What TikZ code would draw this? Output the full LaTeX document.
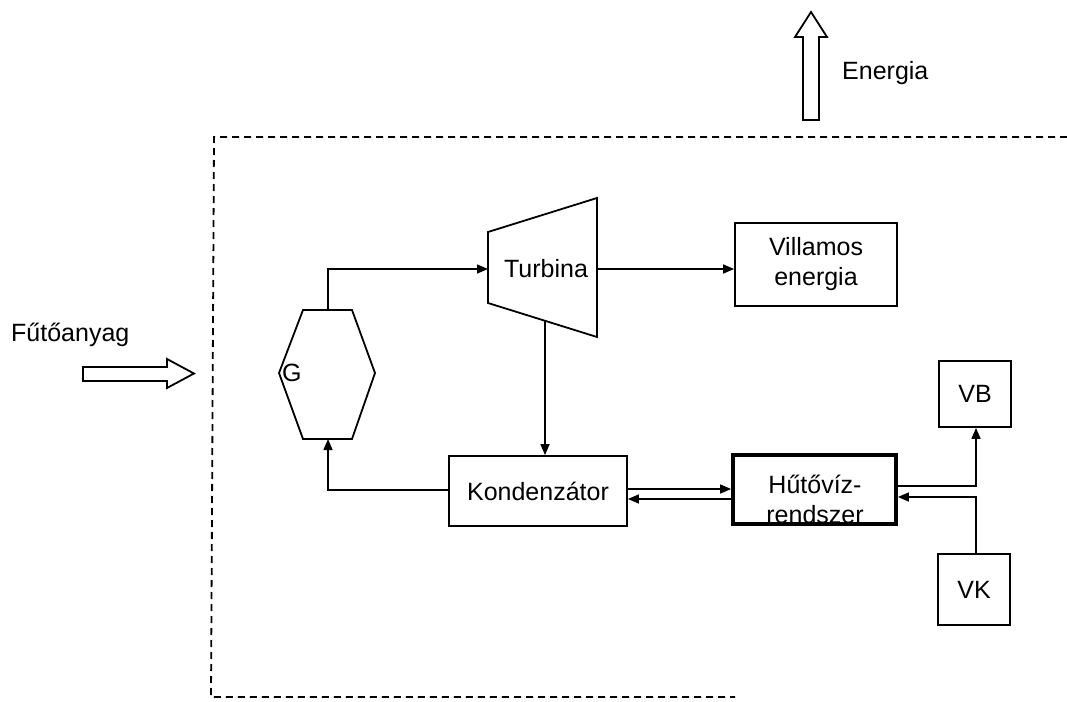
\documentclass[tikz,border=0pt]{standalone}
\usepackage{fontspec}
\setmainfont{Liberation Sans}
\usetikzlibrary{arrows.meta}
\begin{document}
\begin{tikzpicture}[x=1pt,y=-1pt,
  every node/.style={font=\fontsize{25}{30}\selectfont},
  box/.style={draw,line width=1.8pt,inner sep=0pt,align=center},
  thickbox/.style={draw,line width=3.8pt,inner sep=0pt,align=center},
  flow/.style={line width=1.5pt,-{Triangle[length=11pt,width=9pt]}},
  blockarrow/.style={draw,fill=white,line width=1.8pt,line join=miter},
  border/.style={line width=1.8pt,dash pattern=on 7pt off 5pt}]
\useasboundingbox (0,0) rectangle (1067,701);
% system border
\draw[border] (1067,137) -- (214,137) -- (211,697) -- (735,697);
% input / output block arrows
\draw[blockarrow] (83,367) -- (167,367) -- (167,359) -- (194,373.5) -- (167,388) -- (167,381) -- (83,381) -- cycle;
\node[anchor=west,inner sep=0pt] (fuel) at (11,335) {Fűtőanyag};
\draw[blockarrow] (803,120) -- (803,37) -- (795,37) -- (811,12) -- (827,37) -- (819,37) -- (819,120) -- cycle;
\node[anchor=west,inner sep=0pt] (energy) at (842,73) {Energia};
% steam generator G
\coordinate (gtop) at (328,310);
\coordinate (gbot) at (328,439);
\draw[line width=1.8pt,line join=miter] (303,310) -- (352,310) -- (375,373) -- (352,439) -- (303,439) -- (279,373) -- cycle;
\node[anchor=west,inner sep=0pt] (G) at (282,373) {G};
% turbine
\coordinate (tin) at (488,269);
\coordinate (tout) at (597,269);
\coordinate (tbot) at (545,320);
\draw[line width=1.8pt,line join=miter] (488,232) -- (597,198) -- (597,337) -- (488,303) -- cycle;
\node (turb) at (546,269) {Turbina};
% boxes
\node[box,minimum width=162pt,minimum height=83pt] (vill) at (816,264.5) {Villamos\\energia};
\node[box,minimum width=178pt,minimum height=70pt] (kond) at (538,491) {Kondenzátor};
\node[align=center,inner sep=0pt] (hutotext) at (815,499) {Hűtővíz-\\rendszer};
\node[thickbox,minimum width=163pt,minimum height=69pt] (huto) at (814.5,489.5) {};
\node[box,minimum width=72pt,minimum height=66pt] (vb) at (975,394) {VB};
\node[box,minimum width=72pt,minimum height=71pt] (vk) at (974,589.5) {VK};
% connectors
\draw[flow] (gtop) -- (328,269) -- (tin);
\draw[flow] (tout) -- (tout -| vill.west);
\draw[flow] (tbot) -- (tbot |- kond.north);
\draw[flow] (kond.west |- 0,490) -- (328,490) -- (gbot);
\draw[flow] (kond.east |- 0,489) -- (huto.west |- 0,489);
\draw[flow] (huto.west |- 0,499) -- (kond.east |- 0,499);
\draw[flow] (huto.east |- 0,486) -- (976,486) -- (976,0 |- vb.south);
\draw[flow] (976,0 |- vk.north) -- (976,497) -- (huto.east |- 0,497);
\end{tikzpicture}
\end{document}
